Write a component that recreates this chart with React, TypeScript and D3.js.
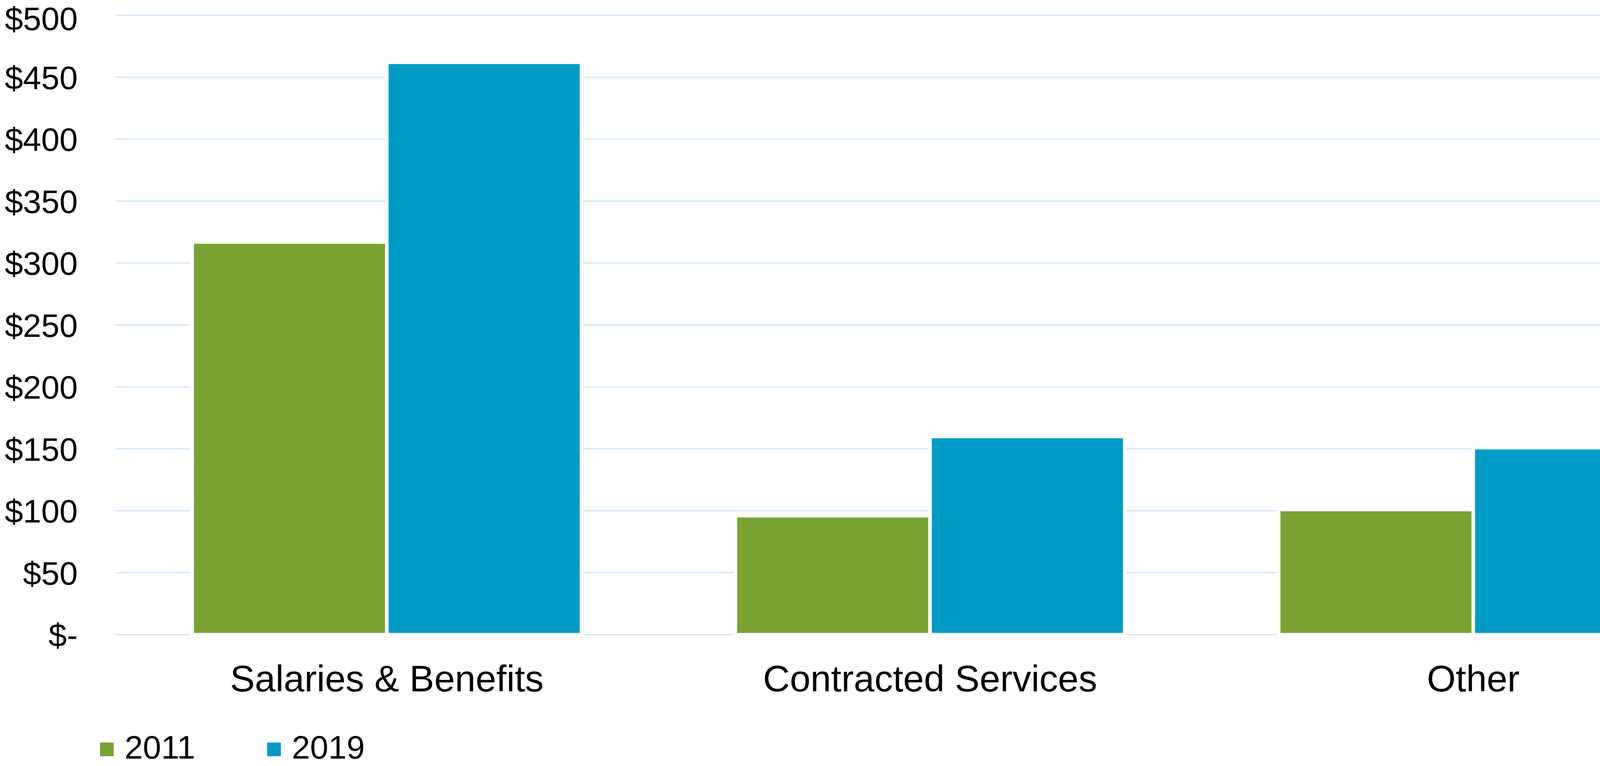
import React from "react";
import * as d3 from "d3";

const categories = ["Salaries & Benefits", "Contracted Services", "Other"];
const seriesNames = ["2011", "2019"];
const values2011 = [317, 96, 101];
const values2019 = [462, 160, 151];
const yTicks = [0, 50, 100, 150, 200, 250, 300, 350, 400, 450, 500];
const seriesColors = ["#78A232", "#009BC7"];

const W = 4467;
const H = 1960;
const FONT = "'Liberation Sans', Arial, sans-serif";

export default function App() {
  const x0 = d3.scaleBand<string>().domain(categories).range([295, W]).paddingInner(0).paddingOuter(0);
  const x1 = d3.scaleBand<string>().domain(seriesNames).range([0, x0.bandwidth()]).paddingInner(0).paddingOuter(0.3956);
  const y = d3.scaleLinear().domain([0, 500]).range([1624, 39]);
  const data = [values2011, values2019];
  const fmt = (v: number) => (v === 0 ? "$-" : `$${d3.format("d")(v)}`);

  return (
    <svg width={W} height={H} style={{ position: "absolute", left: 0, top: 0, background: "#fff" }} fontFamily={FONT}>
      <rect x={0} y={0} width={W} height={H} fill="#fff" />
      {yTicks.map((t) => (
        <g key={t}>
          <line x1={295} x2={W} y1={y(t)} y2={y(t)} stroke="#CFE6FA" strokeWidth={3} />
          <text x={199} y={Math.max(y(t), 47)} dy="0.36em" textAnchor="end" fontSize={84} fill="#000">
            {fmt(t)}
          </text>
        </g>
      ))}
      {categories.map((c, ci) => (
        <g key={c}>
          {seriesNames.map((s, si) => {
            const v = data[si][ci];
            return (
              <rect
                key={s}
                x={(x0(c) ?? 0) + (x1(s) ?? 0)}
                y={y(v)}
                width={x1.bandwidth()}
                height={y(0) - y(v)}
                fill={seriesColors[si]}
                stroke="#fff"
                strokeWidth={9}
              />
            );
          })}
          <text x={(x0(c) ?? 0) + x0.bandwidth() / 2} y={1735} dy="0.36em" textAnchor="middle" fontSize={95} fill="#000">
            {c}
          </text>
        </g>
      ))}
      {seriesNames.map((s, si) => {
        const lx = si === 0 ? 256 : 684;
        return (
          <g key={s}>
            <rect x={lx} y={1900} width={35} height={35} fill={seriesColors[si]} />
            <text x={lx + 63} y={1911} dy="0.36em" fontSize={84} fill="#000">
              {s}
            </text>
          </g>
        );
      })}
      {/* decorative logo fragment, bottom right */}
      <g>
        <line x1={4446} y1={1757} x2={4467} y2={1782} stroke="#A9D3EE" strokeWidth={4} />
        <polygon points="4387,1960 4467,1880 4467,1900 4407,1960" fill="#0057A8" />
        <polygon points="4413,1960 4467,1906 4467,1930 4437,1960" fill="#0A2A5C" />
      </g>
    </svg>
  );
}
